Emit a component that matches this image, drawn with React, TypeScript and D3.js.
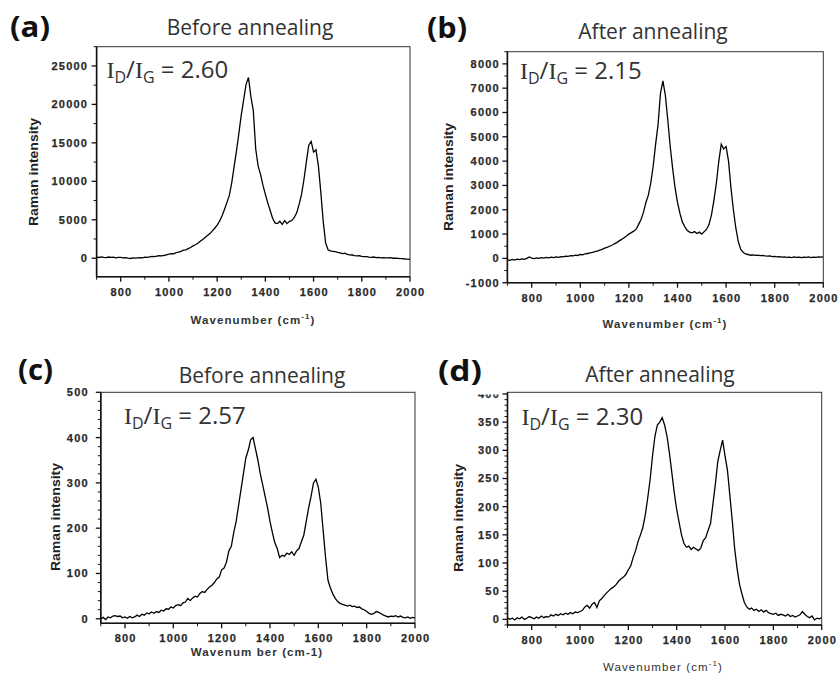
import React from "react";
import * as d3 from "d3";

// Wavenumber grid (cm^-1), 700 -> 2000 in steps of 10
const wavenumbers: number[] = d3.range(700, 2001, 10);

// (a) Before annealing
const seriesA: number[] = [
  150, 100, 180, 120, 90, 160, 110, 140, 60, 120,
  100, 40, 90, 20, -30, 40, 10, 60, 90, 50,
  140, 120, 180, 230, 200, 280, 320, 300, 380, 450,
  520, 600, 580, 720, 800, 900, 1050, 1100, 1250, 1400,
  1600, 1750, 1950, 2200, 2450, 2700, 2950, 3200, 3550, 3900,
  4300, 4800, 5500, 6300, 7200, 8100, 9700, 11800, 13900, 16200,
  18600, 20600, 22600, 23500, 21000, 19200, 14200, 12000, 10900, 9500,
  8300, 7200, 6200, 5200, 4600, 4500, 4800, 4400, 4900, 4500,
  4800, 4900, 5300, 5900, 7000, 8300, 10200, 12500, 14700, 15200,
  13800, 14100, 12000, 8600, 4800, 2000, 1100, 950, 900, 850,
  750, 700, 600, 650, 500, 450, 420, 350, 300, 320,
  250, 200, 220, 150, 120, 160, 90, 100, 60, 80,
  50, 40, 70, 0, 20, -20, -60, -40, -100, -120,
  -150,
];

// (b) After annealing
const seriesB: number[] = [
  -60, -80, -40, -70, -30, -50, -20, -40, 0, 60,
  10, -10, 20, 0, 30, 10, 40, 20, 50, 30,
  60, 40, 70, 60, 90, 80, 110, 100, 130, 120,
  160, 150, 190, 200, 230, 250, 280, 300, 340, 370,
  420, 450, 500, 540, 600, 650, 720, 780, 850, 920,
  1000, 1060, 1120, 1200, 1400, 1600, 1900, 2300, 2600, 3100,
  3800, 4700, 5500, 6800, 7300, 6700, 5700, 4600, 3700, 2900,
  2300, 1850, 1500, 1300, 1150, 1080, 1050, 1100, 1020, 1080,
  1000, 1100, 1200, 1400, 1800, 2400, 3100, 4000, 4700, 4500,
  4600, 4000, 2900, 2000, 1250, 700, 380, 250, 180, 160,
  130, 140, 120, 130, 110, 120, 100, 90, 100, 70,
  80, 60, 70, 50, 60, 40, 50, 30, 60, 40,
  50, 30, 50, 40, 60, 30, 50, 40, 60, 50,
  60,
];

// (c) Before annealing
const seriesC: number[] = [
  0, 3, -2, 4, 2, 6, 7, 5, 6, 2,
  4, 1, 5, 2, 4, 8, 5, 10, 8, 13,
  11, 15, 12, 16, 14, 19, 17, 22, 21, 26,
  24, 29, 31, 29, 35, 37, 45, 40, 46, 50,
  48, 56, 60, 58, 65, 70, 74, 80, 88, 92,
  108, 112, 125, 150, 160, 190, 215, 250, 285, 320,
  355, 372, 395, 400, 375, 350, 320, 295, 270, 245,
  215, 190, 168, 155, 135, 140, 138, 145, 142, 148,
  140, 150, 155, 170, 185, 215, 245, 270, 300, 308,
  290, 255, 195, 135, 85, 68, 55, 45, 38, 34,
  32, 30, 28, 30, 27, 28, 25, 26, 22, 20,
  16, 12, 10, 12, 16, 14, 11, 8, 6, 4,
  6, 5, 7, 4, 6, 3, 2, 4, 1, 3,
  2,
];

// (d) After annealing
const seriesD: number[] = [
  3, 0, 2, -1, 3, 1, 4, 0, 2, 5,
  3, 1, 4, 2, 6, 3, 5, 4, 8, 6,
  9, 7, 10, 8, 11, 9, 12, 10, 13, 12,
  14, 16, 22, 25, 20, 27, 30, 21, 33, 37,
  42, 47, 51, 55, 58, 62, 68, 72, 75, 80,
  88, 95, 110, 122, 138, 150, 163, 185, 215, 248,
  290, 325, 345, 350, 358, 345, 325, 295, 260, 225,
  195, 172, 150, 135, 128, 130, 124, 128, 125, 122,
  127, 140, 145, 158, 170, 205, 240, 280, 300, 318,
  290, 265, 220, 175, 125, 90, 62, 45, 30, 22,
  18, 20, 16, 18, 14, 17, 13, 16, 12, 10,
  9, 11, 7, 9, 8, 6, 9, 5, 7, 4,
  6, 8, 14, 9, 5, 3, 6, -1, 2, 1,
  3,
];

const panelLabels = ["(a)", "(b)", "(c)", "(d)"];
const panelTitles = ["Before annealing", "After annealing", "Before annealing", "After annealing"];
const ratioLabels = ["2.60", "2.15", "2.57", "2.30"];
const xTicks = [800, 1000, 1200, 1400, 1600, 1800, 2000];
const xMinorTicks = [700, 900, 1100, 1300, 1500, 1700, 1900];
const yTicksA = [0, 5000, 10000, 15000, 20000, 25000];
const yTicksB = [-1000, 0, 1000, 2000, 3000, 4000, 5000, 6000, 7000, 8000];
const yTicksC = [0, 100, 200, 300, 400, 500];
const yTicksD = [0, 50, 100, 150, 200, 250, 300, 350, 400];
const xLabels = ["Wavenumber (cm", "Wavenumber (cm", "Wavenum ber (cm-1)", "Wavenumber (cm"];
const yLabel = "Raman intensity";

type Layout = {
  left: number; right: number; top: number; bottom: number;
  yDomain: [number, number]; minorStep: number;
  labelX: number; labelY: number; labelW: number;
  titleX: number; titleY: number;
  annX: number; annY: number;
  xLabX: number; xLabY: number; xLabBold: boolean; xLabSup: boolean;
  yLabX: number; yLabY: number;
  tickLabelGap: number;
  clipTop?: number;
};

const layouts: Layout[] = [
  { left: 96.6, right: 410, top: 46.7, bottom: 276.7, yDomain: [-2400, 27500], minorStep: 2500,
    labelX: 10, labelY: 37, labelW: 40, titleX: 250, titleY: 35, annX: 106.5, annY: 77.5,
    xLabX: 253, xLabY: 324, xLabBold: true, xLabSup: true, yLabX: 34, yLabY: 172, tickLabelGap: 8.5 },
  { left: 507.4, right: 823.3, top: 51.7, bottom: 282.7, yDomain: [-1000, 8500], minorStep: 500,
    labelX: 427, labelY: 38, labelW: 40, titleX: 653, titleY: 39.3, annX: 520, annY: 78.5,
    xLabX: 665, xLabY: 328, xLabBold: true, xLabSup: true, yLabX: 449, yLabY: 177, tickLabelGap: 7.5 },
  { left: 100.8, right: 415, top: 392.3, bottom: 623.3, yDomain: [-10, 500], minorStep: 20,
    labelX: 18, labelY: 380, labelW: 35, titleX: 262, titleY: 383.3, annX: 124, annY: 423.5,
    xLabX: 257, xLabY: 656, xLabBold: true, xLabSup: false, yLabX: 56, yLabY: 517, tickLabelGap: 12 },
  { left: 507.5, right: 821.7, top: 392.3, bottom: 625, yDomain: [-10, 403], minorStep: 10,
    labelX: 438, labelY: 381, labelW: 44, titleX: 660, titleY: 381.7, annX: 521.5, annY: 425,
    xLabX: 663, xLabY: 671, xLabBold: false, xLabSup: true, yLabX: 459, yLabY: 518, tickLabelGap: 7.5,
    clipTop: 394.5 },
];

const seriesList = [seriesA, seriesB, seriesC, seriesD];
const yTickList = [yTicksA, yTicksB, yTicksC, yTicksD];

const tickFont = "'Liberation Sans', Arial, sans-serif";
const titleFont = "'Open Sans', 'Noto Sans', sans-serif";

function Panel({ i }: { i: number }) {
  const L = layouts[i];
  const x = d3.scaleLinear().domain([700, 2000]).range([L.left, L.right]);
  const y = d3.scaleLinear().domain(L.yDomain).range([L.bottom, L.top]);
  const values = seriesList[i];
  const line = d3.line<number>()
    .x((_, k) => x(wavenumbers[k]))
    .y((v) => y(v));
  const yTicks = yTickList[i];
  const [y0, y1] = L.yDomain;
  const minor: number[] = [];
  const start = Math.ceil(y0 / L.minorStep) * L.minorStep;
  for (let v = start; v <= y1 + 1e-9; v += L.minorStep) {
    if (!yTicks.includes(v)) minor.push(v);
  }
  const clipId = `clip${i}`;
  const labClip = `lab${i}`;
  return (
    <g>
      <defs>
        <clipPath id={clipId}>
          <rect x={L.left} y={L.top} width={L.right - L.left} height={L.bottom - L.top} />
        </clipPath>
        <clipPath id={labClip}>
          <rect x={L.left - 60} y={L.clipTop ?? 0} width={60} height={700} />
        </clipPath>
      </defs>
      {/* panel label */}
      <text x={L.labelX} y={L.labelY} fontFamily={titleFont} fontWeight={700} fontSize={28}
        fill="#111" textLength={L.labelW} lengthAdjust="spacingAndGlyphs">{panelLabels[i]}</text>
      {/* title */}
      <text x={L.titleX} y={L.titleY} textAnchor="middle" fontFamily={titleFont} fontSize={21} fill="#333">
        {panelTitles[i]}
      </text>
      {/* frame */}
      <rect x={L.left} y={L.top} width={L.right - L.left} height={L.bottom - L.top}
        fill="none" stroke="#333" strokeWidth={1} />
      <line x1={L.left} x2={L.left} y1={L.top} y2={L.bottom} stroke="#111" strokeWidth={1.6} />
      <line x1={L.left} x2={L.right} y1={L.bottom} y2={L.bottom} stroke="#111" strokeWidth={1.6} />
      {/* y ticks */}
      {yTicks.map((t) => (
        <line key={"yt" + t} x1={L.left - 5} x2={L.left} y1={y(t)} y2={y(t)} stroke="#111" strokeWidth={1.3} />
      ))}
      {minor.map((t) => (
        <line key={"ym" + t} x1={L.left - 3} x2={L.left} y1={y(t)} y2={y(t)} stroke="#111" strokeWidth={1} />
      ))}
      <g clipPath={`url(#${labClip})`}>
        {yTicks.map((t) => (
          <text key={"yl" + t} x={L.left - L.tickLabelGap} y={y(t)} dy="0.36em" textAnchor="end"
            fontFamily={tickFont} fontWeight={700} fontSize={11} letterSpacing={1.2} fill="#2a2a2a"
            stroke="#2a2a2a" strokeWidth={0.25}>
            {t}
          </text>
        ))}
      </g>
      {/* x ticks */}
      {xTicks.map((t) => (
        <line key={"xt" + t} x1={x(t)} x2={x(t)} y1={L.bottom} y2={L.bottom + 5} stroke="#111" strokeWidth={1.3} />
      ))}
      {xMinorTicks.map((t) => (
        <line key={"xm" + t} x1={x(t)} x2={x(t)} y1={L.bottom} y2={L.bottom + 3} stroke="#111" strokeWidth={1} />
      ))}
      {xTicks.map((t) => (
        <text key={"xl" + t} x={x(t) + 0.7} y={L.bottom + 15} dy="0.36em" textAnchor="middle"
          fontFamily={tickFont} fontWeight={700} fontSize={11} letterSpacing={1.2} fill="#2a2a2a"
          stroke="#2a2a2a" strokeWidth={0.25}>
          {t}
        </text>
      ))}
      {/* spectrum */}
      <path d={line(values) ?? ""} fill="none" stroke="#000" strokeWidth={1.3} clipPath={`url(#${clipId})`} />
      {/* ratio annotation */}
      <text x={L.annX} y={L.annY} fontFamily={titleFont} fontSize={24} fill="#333">
        <tspan fontFamily="'Liberation Serif', 'DejaVu Serif', serif">I</tspan>
        <tspan fontSize={16} dy={5}>D</tspan>
        <tspan dy={-5}>/</tspan>
        <tspan fontFamily="'Liberation Serif', 'DejaVu Serif', serif">I</tspan>
        <tspan fontSize={16} dy={5}>G</tspan>
        <tspan dy={-5}>{" = " + ratioLabels[i]}</tspan>
      </text>
      {/* x axis label */}
      <text x={L.xLabX} y={L.xLabY} textAnchor="middle" fontFamily={tickFont}
        fontWeight={L.xLabBold ? 700 : 400} fontSize={11.5} letterSpacing={1.1} fill="#333">
        {xLabels[i]}
        {L.xLabSup ? (
          <>
            <tspan fontSize={8} dy={-5}>-1</tspan>
            <tspan dy={5}>)</tspan>
          </>
        ) : null}
      </text>
      {/* y axis label */}
      <text transform={`translate(${L.yLabX + 4},${L.yLabY}) rotate(-90)`} textAnchor="middle"
        fontFamily={tickFont} fontWeight={700} fontSize={12.5} fill="#222"
        textLength={108} lengthAdjust="spacingAndGlyphs">
        {yLabel}
      </text>
    </g>
  );
}

export default function App() {
  return (
    <svg width={839} height={677} style={{ position: "absolute", left: 0, top: 0, background: "#fff" }}>
      <rect width={839} height={677} fill="#fff" />
      {[0, 1, 2, 3].map((i) => (
        <Panel key={i} i={i} />
      ))}
    </svg>
  );
}
